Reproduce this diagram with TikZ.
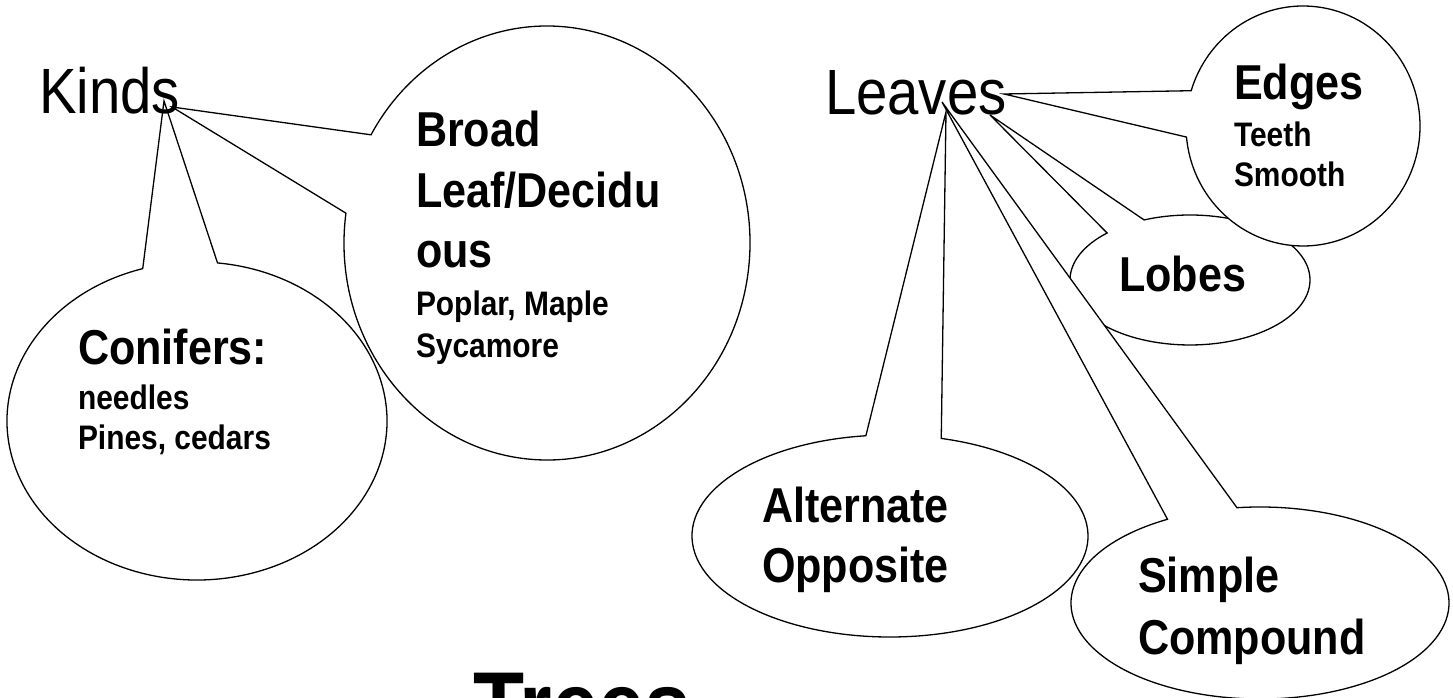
\documentclass[tikz,border=0pt]{standalone}
\usepackage{fontspec}
\setmainfont{Liberation Sans}[FakeStretch=0.88]
\begin{document}
\begin{tikzpicture}[x=1pt,y=1pt]
\tikzset{
  bubble/.style={draw=black, fill=white, line width=1.3pt, line join=miter},
  lbl/.style={anchor=base west, inner sep=0pt, outer sep=0pt},
  head/.style={lbl, font=\fontsize{64}{64}\selectfont},
  big/.style={lbl, font=\bfseries\fontsize{49}{49}\selectfont},
  small/.style={lbl, font=\bfseries\fontsize{34}{34}\selectfont},
  title/.style={lbl, font=\bfseries\fontsize{95}{95}\selectfont}
}
\fill[white] (0,0) rectangle (1453,698);
\useasboundingbox (0,0) rectangle (1453,698);
\clip (0,0) rectangle (1453,698);

% apex points of the callouts
\coordinate (kindsBroad) at (172,591);
\coordinate (kindsCon) at (164,597);
\coordinate (leavesEdge) at (1004,604);
\coordinate (leavesLobe) at (990,583);
\coordinate (leavesAlt) at (946,586);
\coordinate (leavesSim) at (942,596);

% Broad leaf bubble
\draw[bubble] (kindsBroad) -- ([shift={(547,455)}]172.1:203 and 217)
  arc[start angle=172.1, end angle=510.1, x radius=203, y radius=217] -- cycle;
% Conifers bubble
\draw[bubble] (kindsCon) -- ([shift={(197,277)}]106.6:190 and 159)
  arc[start angle=106.6, end angle=443.8, x radius=190, y radius=159] -- cycle;
% Alternate bubble
\draw[bubble] (leavesAlt) -- ([shift={(890,162)}]97:198 and 101)
  arc[start angle=97, end angle=435, x radius=198, y radius=101] -- cycle;
% Lobes bubble
\draw[bubble] (leavesLobe) -- ([shift={(1190,418)}]133.7:120 and 65)
  arc[start angle=133.7, end angle=472.5, x radius=120, y radius=65] -- cycle;
% Edges bubble
\draw[bubble] (leavesEdge) -- ([shift={(1303,572)}]185.3:117 and 120)
  arc[start angle=185.3, end angle=522.9, x radius=117, y radius=120] -- cycle;
% Simple bubble
\draw[bubble] (leavesSim) -- ([shift={(1260,95)}]119.3:189 and 96)
  arc[start angle=119.3, end angle=457, x radius=189, y radius=96] -- cycle;

% texts
\node[head] (kinds) at (39,584) {Kinds};
\node[head] (leaves) at (825,583) {Leaves};

\node[big] (broad1) at (416,551) {Broad};
\node[big] (broad2) at (416,490) {Leaf/Decidu};
\node[big] (broad3) at (416,430) {ous};
\node[small] (broad4) at (416,382) {Poplar, Maple};
\node[small] (broad5) at (416,340) {Sycamore};

\node[big] (con1) at (78,333) {Conifers:};
\node[small] (con2) at (78,288) {needles};
\node[small] (con3) at (78,248) {Pines, cedars};

\node[big] (edge1) at (1234,598) {Edges};
\node[small] (edge2) at (1234,551) {Teeth};
\node[small] (edge3) at (1234,511) {Smooth};

\node[big] (lobes) at (1119,406) {Lobes};

\node[big] (alt1) at (762,175) {Alternate};
\node[big] (alt2) at (762,115) {Opposite};

\node[big] (sim1) at (1138,105) {Simple};
\node[big] (sim2) at (1138,43) {Compound};

\node[title] (trees) at (473,-41) {Trees};
\end{tikzpicture}
\end{document}
